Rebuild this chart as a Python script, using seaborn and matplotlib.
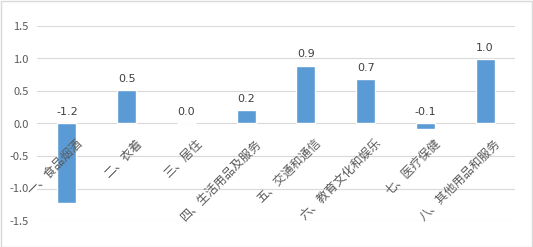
import matplotlib
matplotlib.use("Agg")
import matplotlib.pyplot as plt
import seaborn as sns
import pandas as pd

categories = ["一、食品烟酒", "二、衣着", "三、居住", "四、生活用品及服务",
              "五、交通和通信", "六、教育文化和娱乐", "七、医疗保健", "八、其他用品和服务"]
values = [-1.22, 0.51, 0.0, 0.2, 0.89, 0.68, -0.08, 0.99]
labels = ["-1.2", "0.5", "0.0", "0.2", "0.9", "0.7", "-0.1", "1.0"]
yticks = [-1.5, -1.0, -0.5, 0.0, 0.5, 1.0, 1.5]

sns.set_style("white")
plt.rcParams['font.family'] = ['Noto Sans CJK SC', 'DejaVu Sans']

df = pd.DataFrame({"cat": categories, "val": values})

fig = plt.figure(figsize=(5.33, 2.47), dpi=100)
ax = fig.add_axes([37/533, 1 - 221/247, (515-37)/533, (221-26)/247])
sns.barplot(data=df, x="cat", y="val", color="#5b9bd5", saturation=1, width=0.32, ax=ax, zorder=3)

ax.set_ylim(-1.5, 1.5)
ax.set_xlim(-0.5, len(categories) - 0.5)
ax.set_yticks(yticks)
ax.set_yticklabels([f"{t:.1f}" for t in yticks], fontsize=8, color="#595959")
ax.yaxis.grid(True, color="#d9d9d9", linewidth=0.8, zorder=0)
ax.tick_params(axis='y', length=0, pad=6)
ax.set_xticks([])
ax.set_xlabel("")
ax.set_ylabel("")
for s in ax.spines.values():
    s.set_visible(False)

for i, (v, lab) in enumerate(zip(values, labels)):
    ax.text(i, max(v, 0) + 0.1, lab, ha="center", va="bottom", fontsize=8,
            color="#404040", family="DejaVu Sans")
    ax.text(i + 0.15, -0.2, categories[i], rotation=45, rotation_mode="anchor",
            ha="right", va="top", fontsize=8.7, color="#595959")

fig.patches.append(plt.Rectangle((0.001, 0.002), 0.997, 0.995, transform=fig.transFigure,
                                 fill=False, edgecolor="#d9d9d9", linewidth=1))
fig.savefig("out.png", dpi=100)
